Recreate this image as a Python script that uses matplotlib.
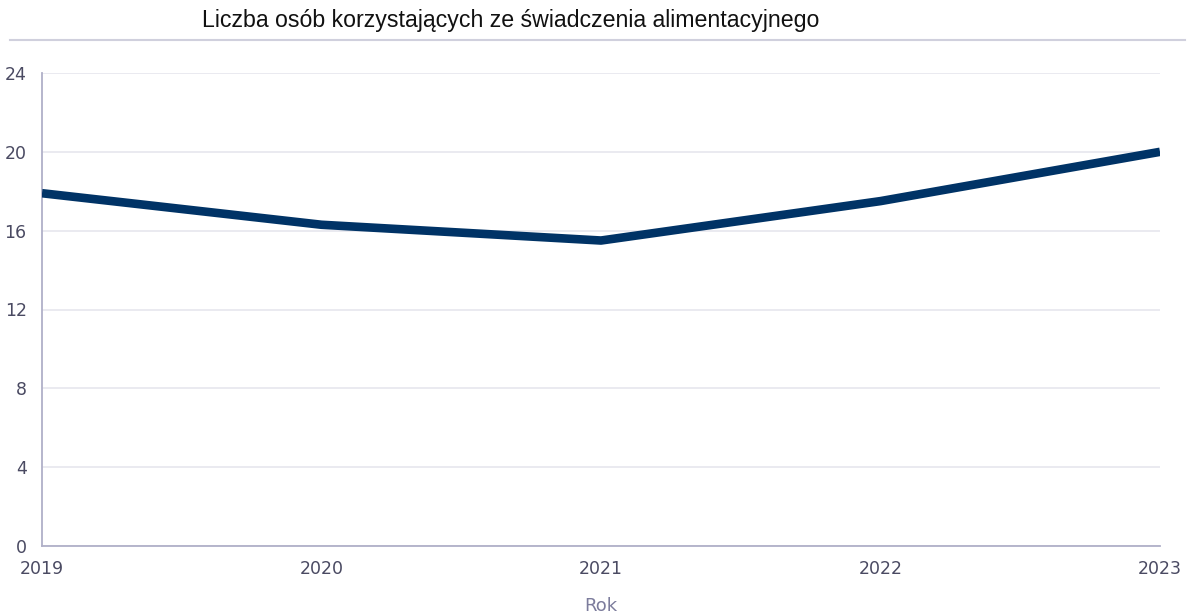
import matplotlib
matplotlib.use("Agg")
import matplotlib.pyplot as plt
from matplotlib.lines import Line2D
from matplotlib import font_manager as fm

years = ["2019", "2020", "2021", "2022", "2023"]
values = [17.9, 16.3, 15.5, 17.5, 20.0]
yticks = [0, 4, 8, 12, 16, 20, 24]
title = "Liczba osób korzystających ze świadczenia alimentacyjnego"
xlabel = "Rok"

title_fp = None
for f in fm.findSystemFonts():
    if f.endswith("LiberationSans-Regular.ttf"):
        title_fp = fm.FontProperties(fname=f)
        break
if title_fp is None:
    title_fp = fm.FontProperties(family="DejaVu Sans")
title_fp.set_size(16.7)

fig = plt.figure(figsize=(11.9, 6.16), dpi=100)
ax = fig.add_axes([42/1190, 1-546/616, (1160-42)/1190, (546-73)/616])

x = list(range(len(years)))
ax.plot(x, values, color="#003366", linewidth=6.2, solid_capstyle="butt", solid_joinstyle="round", zorder=3)

ax.set_xlim(0, len(years)-1)
ax.set_ylim(0, 24)
ax.set_yticks(yticks)
ax.set_yticklabels([str(t) for t in yticks])
ax.set_xticks(x)
ax.set_xticklabels(years)
ax.grid(axis="y", color="#e6e6ee", linewidth=1.2)
ax.set_axisbelow(True)
for s in ["top", "right"]:
    ax.spines[s].set_visible(False)
ax.spines["left"].set_color("#b0b0c8")
ax.spines["bottom"].set_color("#b0b0c8")
ax.spines["left"].set_linewidth(1.3)
ax.spines["bottom"].set_linewidth(1.3)
ax.tick_params(axis="both", length=0, labelsize=12.5, labelcolor="#4a4a62")
ax.tick_params(axis="y", pad=11)
ax.tick_params(axis="x", pad=10)
ax.set_xlabel(xlabel, fontsize=13, color="#7c7c9c", labelpad=14)

fig.text(511/1190, 1-21/616, title, ha="center", va="center",
         fontproperties=title_fp, color="#111111")
fig.add_artist(Line2D([10/1190, 1185/1190], [1-40/616, 1-40/616], color="#d0d0dd", linewidth=1.5))

fig.savefig("out.png", dpi=100)
